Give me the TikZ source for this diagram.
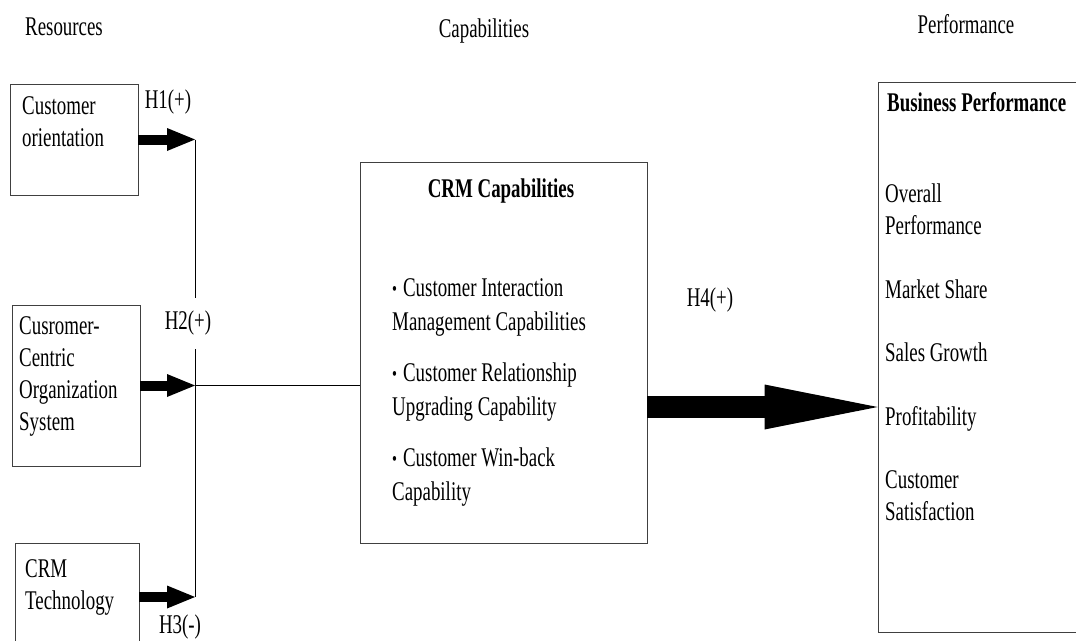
\documentclass[tikz,border=0pt]{standalone}
\usepackage{fontspec}
\setmainfont{Liberation Serif}[FakeStretch=0.7]
\usepackage{tikz}
\usetikzlibrary{positioning,arrows.meta}

\newcommand{\crmbullet}{\raisebox{1pt}{\fontsize{20}{20}\selectfont\textbullet}\hspace{6pt}}

\begin{document}
\begin{tikzpicture}[x=1pt,y=-1pt,
  box/.style={rectangle,draw=black!75,line width=0.9pt,inner sep=0pt},
  txt/.style={inner sep=0pt,align=left,anchor=north west,font=\fontsize{27}{32}\selectfont},
  hyp/.style={inner sep=0pt,font=\fontsize{27}{32}\selectfont},
  arr/.style={-{Triangle[length=28pt,width=23pt,line width=0pt]},line width=10pt},
  bigarr/.style={-{Triangle[length=113pt,width=45pt,line width=0pt]},line width=22pt},
  bus/.style={line width=0.9pt}]
  \useasboundingbox (0,0) rectangle (1076,640);
  % column titles
  \node[hyp](tres) at (64,27){Resources};
  \node[hyp](tcap) at (484,31){Capabilities};
  \node[hyp](tperf) at (966,24){Performance};
  % resources
  \node[box,minimum width=128pt,minimum height=111pt](cust) at (74,139.5){};
  \node[txt](custtxt) at (22,96){Customer\\orientation};
  \node[box,minimum width=128pt,minimum height=161pt](ccos) at (76,385.5){};
  \node[txt](ccostxt) at (19,316){Cusromer-\\Centric\\Organization\\System};
  \node[box,minimum width=124pt,minimum height=108pt](tech) at (77,597){};
  \node[txt](techtxt) at (25,559){CRM\\Technology};
  % capabilities
  \node[box,minimum width=287pt,minimum height=381pt](crm) at (503.5,352.5){};
  \node[hyp,font=\bfseries\fontsize{27}{32}\selectfont](crmtitle) at (501,191){CRM Capabilities};
  \node[txt,font=\fontsize{27}{34}\selectfont](crmitems) at (392,278){%
    \crmbullet Customer Interaction\\Management Capabilities\\[17pt]
    \crmbullet Customer Relationship\\Upgrading Capability\\[17pt]
    \crmbullet Customer Win-back\\Capability};
  % performance
  \node[box,minimum width=212pt,minimum height=550pt](biz) at (984,357){};
  \node[txt,font=\bfseries\fontsize{27}{32}\selectfont](biztitle) at (887,92){Business Performance};
  \node[txt](bizitems) at (885,184){Overall\\Performance\\[31.5pt]Market Share\\[31.5pt]Sales Growth\\[31.5pt]Profitability\\[31.5pt]Customer\\Satisfaction};
  % hypotheses
  \coordinate (j1) at (195,139.5);
  \coordinate (j2) at (195,385.5);
  \coordinate (j3) at (195,597);
  \coordinate (h4y) at (0,407);
  \draw[bus](j1)--(j3);
  \draw[arr](cust.east)--(j1);
  \draw[arr](ccos.east)--(j2);
  \draw[arr](tech.east)--(j3);
  \draw[bus](j2)--(j2-|crm.west);
  \draw[bigarr](crm.east|-h4y)--(biz.west|-h4y);
  \node[hyp](h1) at (168,102){H1(+)};
  \node[hyp,fill=white,inner xsep=1pt,minimum height=51pt](h2) at (188,323){H2(+)};
  \node[hyp](h3) at (180,627){H3(-)};
  \node[hyp](h4) at (710,300){H4(+)};
\end{tikzpicture}
\end{document}
